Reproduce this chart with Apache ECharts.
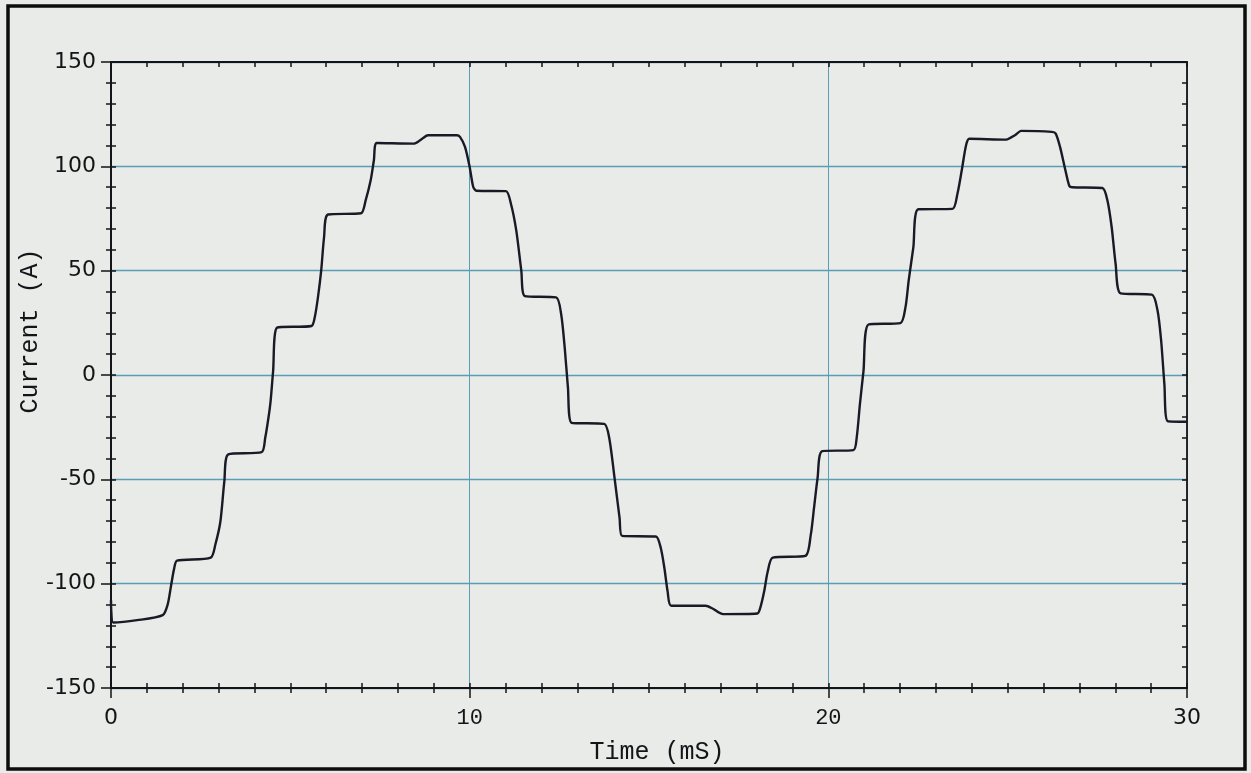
<!DOCTYPE html>
<html>
<head>
<meta charset="utf-8">
<script src="https://cdn.jsdelivr.net/npm/echarts@6/dist/echarts.min.js"></script>
<style>
  html, body { margin: 0; padding: 0; background: #e8ebe8; }
  #chart { width: 1251px; height: 773px; }
</style>
</head>
<body>
<div id="chart"></div>
<script>
// Sampled phase current of the stepped inverter output
const timeMs = [
  0, 0.06, 0.73, 1.44, 1.58, 1.67, 1.76, 1.84, 2.78, 2.91, 3.05, 3.16, 3.27,
  4.2, 4.3, 4.39, 4.45, 4.52, 4.63, 5.59, 5.68, 5.77, 5.86, 5.94, 6.05,
  6.97, 7.1, 7.24, 7.33, 7.41, 8.44, 8.62, 8.84, 9.64, 9.73, 9.87, 10.0,
  10.1, 10.19, 11.01, 11.15, 11.3, 11.44, 11.54, 12.41, 12.55, 12.65, 12.74,
  12.84, 13.75, 13.89, 14.04, 14.18, 14.25, 15.19, 15.33, 15.43, 15.52, 15.62,
  16.58, 16.77, 17.06, 18.02, 18.11, 18.21, 18.31, 18.45, 19.36, 19.51, 19.6,
  19.7, 19.83, 20.7, 20.79, 20.88, 20.98, 21.12, 22.01, 22.15, 22.24, 22.37,
  22.51, 23.46, 23.6, 23.72, 23.84, 23.93, 24.96, 25.2, 25.38, 26.23, 26.34,
  26.46, 26.61, 26.72, 26.8, 27.64, 27.78, 27.9, 28.01, 28.15, 29.02, 29.18,
  29.28, 29.37, 29.46, 30
];
const currentA = [
  -108, -118.6, -117.5, -115.1, -110, -101.4, -92.8, -89, -87.5, -81.2, -70.2, -51, -38,
  -37, -30.1, -20.5, -12.5, 1.9, 22.7, 23.5, 27.6, 37.2, 50, 66, 76.9,
  77.5, 83.7, 93.3, 102.9, 111.2, 110.9, 112.5, 114.9, 114.9, 114.1, 109.3, 99.7,
  90.1, 88.3, 88.1, 82.1, 69.2, 50, 37.8, 37.2, 29.2, 13.1, -6.1,
  -22.9, -23.4, -30.1, -49.4, -68.6, -77.1, -77.4, -83, -92.6, -103.8, -110.6,
  -110.6, -111.9, -114.6, -114.3, -111.1, -103.8, -94.2, -87.5, -86.7, -76.6, -63.8,
  -49.4, -36.5, -36, -30.1, -14.1, 1.9, 24.2, 24.9, 32.4, 45.2, 61.2,
  79.4, 79.6, 86.9, 98.1, 110.1, 113.2, 112.8, 114.9, 117, 116.5, 115.7,
  109.3, 98.1, 90.6, 90, 89.6, 83.7, 70.8, 53.2, 39.1, 38.5, 30.8,
  16.3, -4.5, -22.1, -22.4
];

// Axis ranges and tick steps
const timeRange = [0, 30];
const timeStep = 10;
const currentRange = [-150, 150];
const currentStep = 50;
const xTitle = 'Time (mS)';
const yTitle = 'Current (A)';

const ink = '#141418';
const gridTeal = '#5a9db4';
const sans = 'DejaVu Sans';
const mono = 'Liberation Mono';

const points = timeMs.map((t, i) => [t, currentA[i]]);

function frameX(extra) {
  return Object.assign({
    type: 'value', min: timeRange[0], max: timeRange[1], interval: timeStep,
    axisLine: { show: true, onZero: false, lineStyle: { color: ink, width: 1.8 } },
    axisLabel: { show: false },
    splitLine: { show: false },
    axisTick: { show: true, inside: true, length: 5, lineStyle: { color: ink, width: 1.5 } },
    minorTick: { show: true, splitNumber: 10, length: 5, lineStyle: { color: ink, width: 1.5 } }
  }, extra);
}
function frameY(extra) {
  return Object.assign({
    type: 'value', min: currentRange[0], max: currentRange[1], interval: currentStep,
    axisLine: { show: true, onZero: false, lineStyle: { color: ink, width: 1.8 } },
    axisLabel: { show: false },
    splitLine: { show: false },
    axisTick: { show: true, inside: true, length: 5, lineStyle: { color: ink, width: 1.5 } },
    minorTick: { show: true, splitNumber: 5, length: 5, lineStyle: { color: ink, width: 1.5 } }
  }, extra);
}

const chart = echarts.init(document.getElementById('chart'), null, { renderer: 'canvas' });
chart.setOption({
  backgroundColor: '#e8ebe8',
  animation: false,
  grid: { left: 111, right: 64, top: 62, bottom: 85, containLabel: false },
  xAxis: [
    frameX({
      position: 'bottom',
      axisTick: { show: true, inside: false, length: 10, lineStyle: { color: ink, width: 1.5 } },
      minorTick: { show: true, splitNumber: 10, length: 5, lineStyle: { color: ink, width: 1.5 } },
      splitLine: { show: true, lineStyle: { color: gridTeal, width: 1 } },
      axisLabel: {
        show: true, margin: 19,
        formatter: v => (v === 10 || v === 20) ? '{m|' + v + '}' : '{s|' + v + '}',
        rich: {
          m: { fontFamily: mono, fontSize: 22, color: ink },
          s: { fontFamily: sans, fontSize: 22, color: ink }
        }
      }
    }),
    frameX({ position: 'bottom' }),
    frameX({ position: 'top' })
  ],
  yAxis: [
    frameY({
      position: 'left',
      axisTick: { show: true, inside: false, length: 10, lineStyle: { color: ink, width: 1.5 } },
      minorTick: { show: true, splitNumber: 5, length: 5, lineStyle: { color: ink, width: 1.5 } },
      splitLine: { show: true, lineStyle: { color: gridTeal, width: 1.4 } },
      axisLabel: { show: true, margin: 15, fontFamily: sans, fontSize: 22, color: ink }
    }),
    frameY({ position: 'left' }),
    frameY({ position: 'right' })
  ],
  graphic: [
    {
      type: 'rect', z: 100, silent: true,
      shape: { x: 8, y: 6, width: 1237, height: 763 },
      style: { fill: null, stroke: '#0d0d0d', lineWidth: 3.5 }
    },
    {
      type: 'text', z: 100, x: 657, y: 752,
      style: { text: xTitle, font: '25px "Liberation Mono"', fill: ink, align: 'center', verticalAlign: 'middle' }
    },
    {
      type: 'text', z: 100, x: 30, y: 331, rotation: Math.PI / 2,
      style: { text: yTitle, font: '25px "Liberation Mono"', fill: ink, align: 'center', verticalAlign: 'middle' }
    }
  ],
  series: [{
    type: 'line',
    xAxisIndex: 0, yAxisIndex: 0,
    data: points,
    showSymbol: false,
    smooth: 0.25,
    lineStyle: { color: '#1a1a26', width: 2.4 },
    z: 5
  }]
});
</script>
</body>
</html>
